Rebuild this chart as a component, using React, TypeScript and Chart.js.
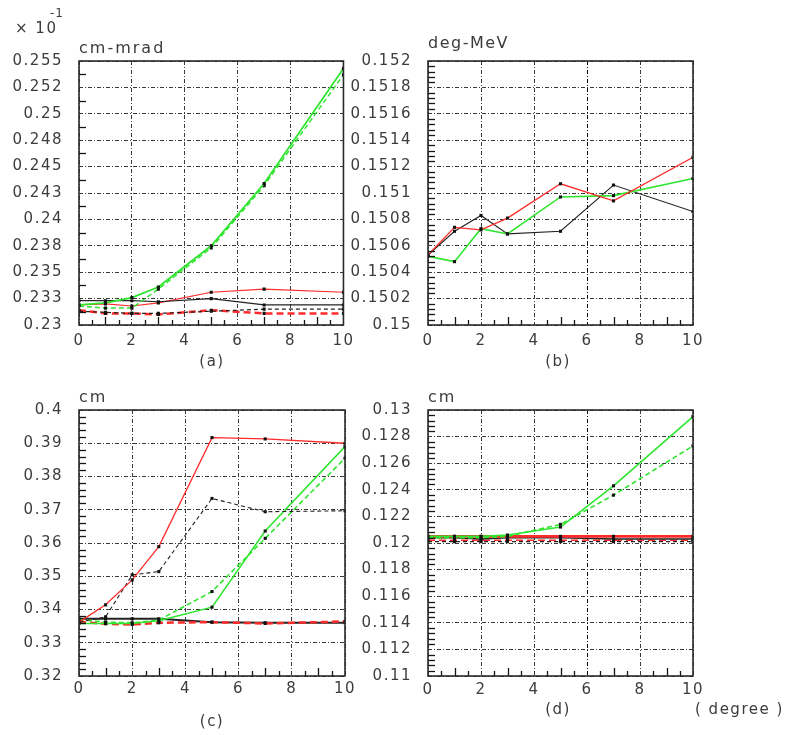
import React, { useEffect, useRef } from 'react';
import { Chart, registerables } from 'chart.js';
Chart.register(...registerables);

// ---------- shared data ----------
const xValues = [0, 1, 2, 3, 5, 7, 10];
const xGridTicks = [0, 2, 4, 6, 8, 10];
const xTickLabels = ['0', '2', '4', '6', '8', '10'];

// ---------- panel (a) : cm-mrad (x 10^-1) ----------
const aYTicks = [0.23, 0.2325, 0.235, 0.2375, 0.24, 0.2425, 0.245, 0.2475, 0.25, 0.2525, 0.255];
const aYLabels = ['0.23', '0.233', '0.235', '0.238', '0.24', '0.243', '0.245', '0.248', '0.25', '0.252', '0.255'];
const aGreenSolid = [0.2319, 0.2321, 0.2326, 0.2336, 0.2375, 0.2434, 0.2543];
const aGreenDashed = [0.2318, 0.2316, 0.2316, 0.2334, 0.2373, 0.2432, 0.2537];
const aRedSolid = [0.2319, 0.232, 0.2318, 0.2321, 0.2331, 0.2334, 0.2331];
const aRedDashed = [0.2314, 0.2311, 0.2311, 0.231, 0.2314, 0.2311, 0.2311];
const aBlackSolid = [0.2323, 0.2323, 0.2323, 0.2322, 0.2325, 0.2319, 0.2319];
const aBlackDashed = [0.2313, 0.2312, 0.2311, 0.2311, 0.2313, 0.2315, 0.2315];

// ---------- panel (b) : deg-MeV ----------
const bYTicks = [0.15, 0.1502, 0.1504, 0.1506, 0.1508, 0.151, 0.1512, 0.1514, 0.1516, 0.1518, 0.152];
const bYLabels = ['0.15', '0.1502', '0.1504', '0.1506', '0.1508', '0.151', '0.1512', '0.1514', '0.1516', '0.1518', '0.152'];
const bRed = [0.15053, 0.15074, 0.15072, 0.15081, 0.15107, 0.15094, 0.15127];
const bGreen = [0.15052, 0.15048, 0.15073, 0.15069, 0.15097, 0.15098, 0.15111];
const bBlack = [0.15053, 0.15071, 0.15083, 0.15069, 0.15071, 0.15106, 0.15086];

// ---------- panel (c) : cm ----------
const cYTicks = [0.32, 0.33, 0.34, 0.35, 0.36, 0.37, 0.38, 0.39, 0.4];
const cYLabels = ['0.32', '0.33', '0.34', '0.35', '0.36', '0.37', '0.38', '0.39', '0.4'];
const cRedSolid = [0.3362, 0.3414, 0.3489, 0.3589, 0.3917, 0.3913, 0.39];
const cBlackDashed = [0.3362, 0.3378, 0.3504, 0.3514, 0.3734, 0.3694, 0.3697];
const cGreenSolid = [0.3358, 0.3358, 0.3358, 0.3366, 0.3407, 0.3636, 0.389];
const cGreenDashed = [0.337, 0.3362, 0.336, 0.3368, 0.3454, 0.3614, 0.3855];
const cBlackSolid = [0.3372, 0.3372, 0.3372, 0.3372, 0.3362, 0.336, 0.336];
const cRedDashed = [0.3363, 0.3357, 0.3355, 0.336, 0.3362, 0.3358, 0.3364];

// ---------- panel (d) : cm ----------
const dYTicks = [0.11, 0.112, 0.114, 0.116, 0.118, 0.12, 0.122, 0.124, 0.126, 0.128, 0.13];
const dYLabels = ['0.11', '0.112', '0.114', '0.116', '0.118', '0.12', '0.122', '0.124', '0.126', '0.128', '0.13'];
const dGreenSolid = [0.1205, 0.1205, 0.1205, 0.1206, 0.1212, 0.1243, 0.1295];
const dGreenDashed = [0.1204, 0.1204, 0.1204, 0.1205, 0.1214, 0.1236, 0.1273];
const dRedSolid = [0.1205, 0.1205, 0.1205, 0.1205, 0.1205, 0.1205, 0.1205];
const dRedDashed = [0.1202, 0.1202, 0.1202, 0.1202, 0.1202, 0.1202, 0.1202];
const dBlackSolid = [0.1204, 0.1204, 0.1203, 0.1204, 0.1204, 0.1203, 0.1203];
const dBlackDashed = [0.1201, 0.1201, 0.1201, 0.1201, 0.1201, 0.1201, 0.1201];

// ---------- styles ----------
const RED = '#ff2b2b';
const GREEN = '#2fe52f';
const BLACK = '#222';
const FONT = 'DejaVu Sans';
const LABEL_COLOR = '#3c3c3c';
const GRID_COLOR = '#3a3a3a';

type Series = { data: number[]; color: string; width: number; dash: number[] };
type Txt = { text: string; x: number; y: number; align: CanvasTextAlign; size: number; spacing: number; baseline?: CanvasTextBaseline };
type PanelCfg = {
  name: string;
  left: number; top: number; w: number; h: number;
  area: { left: number; top: number; right: number; bottom: number };
  yMin: number; yMax: number; yTicks: number[]; yLabels: string[];
  yMinor: number; minorPerMajor: number;
  xPad: number;
  darkSix: boolean;
  series: Series[];
  texts: Txt[];
};

const S = (data: number[], color: string, width: number, dash: number[] = []): Series => ({ data, color, width, dash });

const panels: PanelCfg[] = [
  {
    name: 'a', left: 0, top: 0, w: 360, h: 370,
    area: { left: 79, top: 61, right: 345, bottom: 325 },
    yMin: 0.23, yMax: 0.255, yTicks: aYTicks, yLabels: aYLabels, yMinor: 0.00125, minorPerMajor: 2,
    xPad: 7, darkSix: false,
    series: [
      S(aGreenSolid, GREEN, 1.8),
      S(aGreenDashed, GREEN, 1.5, [5, 3]),
      S(aBlackSolid, BLACK, 1.2),
      S(aBlackDashed, BLACK, 1.2, [4, 3]),
      S(aRedSolid, RED, 1.2),
      S(aRedDashed, RED, 2.5, [7, 4]),
    ],
    texts: [
      { text: '\u00d7 10', x: 15, y: 29, align: 'left', size: 15, spacing: 1.5, baseline: 'middle' },
      { text: '-1', x: 50, y: 14, align: 'left', size: 12, spacing: 1, baseline: 'middle' },
      { text: 'cm-mrad', x: 79, y: 53, align: 'left', size: 16, spacing: 2, baseline: 'alphabetic' },
      { text: '(a)', x: 212, y: 362, align: 'center', size: 15, spacing: 1.5, baseline: 'middle' },
    ],
  },
  {
    name: 'b', left: 330, top: 0, w: 457, h: 370,
    area: { left: 98, top: 61, right: 363, bottom: 325 },
    yMin: 0.15, yMax: 0.152, yTicks: bYTicks, yLabels: bYLabels, yMinor: 0.00004, minorPerMajor: 5,
    xPad: 7, darkSix: true,
    series: [
      S(bRed, RED, 1.3),
      S(bGreen, GREEN, 1.6),
      S(bBlack, BLACK, 1.1),
    ],
    texts: [
      { text: 'deg-MeV', x: 98, y: 48, align: 'left', size: 16, spacing: 1.5, baseline: 'alphabetic' },
      { text: '(b)', x: 228, y: 362, align: 'center', size: 15, spacing: 1.5, baseline: 'middle' },
    ],
  },
  {
    name: 'c', left: 0, top: 370, w: 360, h: 365,
    area: { left: 79, top: 40, right: 345, bottom: 306 },
    yMin: 0.32, yMax: 0.4, yTicks: cYTicks, yLabels: cYLabels, yMinor: 0.002, minorPerMajor: 5,
    xPad: 4, darkSix: false,
    series: [
      S(cRedSolid, RED, 1.3),
      S(cBlackDashed, BLACK, 1.1, [4, 3]),
      S(cGreenSolid, GREEN, 1.6),
      S(cGreenDashed, GREEN, 1.6, [5, 3]),
      S(cRedDashed, RED, 2.5, [7, 4]),
      S(cBlackSolid, BLACK, 2),
    ],
    texts: [
      { text: 'cm', x: 79, y: 32, align: 'left', size: 16, spacing: 2, baseline: 'alphabetic' },
      { text: '(c)', x: 212, y: 352, align: 'center', size: 15, spacing: 1.5, baseline: 'middle' },
    ],
  },
  {
    name: 'd', left: 330, top: 370, w: 457, h: 365,
    area: { left: 98, top: 40, right: 363, bottom: 306 },
    yMin: 0.11, yMax: 0.13, yTicks: dYTicks, yLabels: dYLabels, yMinor: 0.0004, minorPerMajor: 5,
    xPad: 5, darkSix: true,
    series: [
      S(dGreenSolid, GREEN, 1.6),
      S(dGreenDashed, GREEN, 1.6, [5, 3]),
      S(dRedSolid, RED, 2.6),
      S(dBlackSolid, BLACK, 1.5),
      S(dRedDashed, RED, 1.5, [7, 4]),
      S(dBlackDashed, BLACK, 1.1, [4, 3]),
    ],
    texts: [
      { text: 'cm', x: 98, y: 32, align: 'left', size: 16, spacing: 2, baseline: 'alphabetic' },
      { text: '(d)', x: 228, y: 340, align: 'center', size: 15, spacing: 1.5, baseline: 'middle' },
      { text: '( degree )', x: 365, y: 340, align: 'left', size: 15, spacing: 1.5, baseline: 'middle' },
    ],
  },
];

function makeDecor(p: PanelCfg) {
  return {
    id: 'decor_' + p.name,
    beforeDraw(chart: any) {
      chart.ctx.letterSpacing = '1.5px';
    },
    afterDraw(chart: any) {
      const ctx: CanvasRenderingContext2D = chart.ctx;
      const a = chart.chartArea;
      const xs = chart.scales.x;
      const ys = chart.scales.y;
      ctx.save();
      ctx.setLineDash([]);
      ctx.strokeStyle = '#151515';
      ctx.lineWidth = 1.3;
      // x minor ticks (inside, from the bottom edge)
      for (let k = 1; k < 20; k++) {
        const v = k * 0.5;
        if (v % 2 === 0) continue;
        const len = Number.isInteger(v) ? 8 : 5;
        const px = Math.round(xs.getPixelForValue(v)) + 0.5;
        ctx.beginPath();
        ctx.moveTo(px, a.bottom);
        ctx.lineTo(px, a.bottom - len);
        ctx.stroke();
      }
      // y minor ticks (inside, from the left edge)
      const n = Math.round((p.yMax - p.yMin) / p.yMinor);
      for (let k = 1; k < n; k++) {
        if (k % p.minorPerMajor === 0) continue;
        const v = p.yMin + k * p.yMinor;
        const py = Math.round(ys.getPixelForValue(v)) + 0.5;
        ctx.beginPath();
        ctx.moveTo(a.left, py);
        ctx.lineTo(a.left + 7, py);
        ctx.stroke();
      }
      // frame
      ctx.lineWidth = 1.6;
      ctx.strokeStyle = '#2a2a2a';
      ctx.strokeRect(a.left, a.top, a.right - a.left, a.bottom - a.top);
      // texts
      ctx.fillStyle = LABEL_COLOR;
      for (const t of p.texts) {
        (ctx as any).letterSpacing = `${t.spacing}px`;
        ctx.font = `${t.size}px "${FONT}"`;
        ctx.textAlign = t.align;
        ctx.textBaseline = t.baseline || 'middle';
        ctx.fillText(t.text, t.x, t.y);
      }
      ctx.restore();
    },
  };
}

function makeConfig(p: PanelCfg): any {
  const gridDash = [4, 2, 1, 2];
  return {
    type: 'line',
    data: {
      datasets: p.series.map((s) => ({
        data: xValues.map((x, i) => ({ x, y: s.data[i] })),
        borderColor: s.color,
        borderWidth: s.width,
        borderDash: s.dash,
        pointRadius: 2.2,
        pointStyle: 'rect',
        pointBackgroundColor: '#111',
        pointBorderColor: '#111',
        pointBorderWidth: 0,
        fill: false,
        tension: 0,
      })),
    },
    options: {
      animation: false,
      responsive: false,
      events: [],
      layout: { padding: { left: 0, top: p.area.top, right: p.w - p.area.right, bottom: 0 } },
      plugins: { legend: { display: false }, tooltip: { enabled: false }, title: { display: false } },
      scales: {
        x: {
          type: 'linear',
          min: 0,
          max: 10,
          afterBuildTicks: (s: any) => { s.ticks = xGridTicks.map((v) => ({ value: v })); },
          afterFit: (s: any) => { s.height = p.h - p.area.bottom; },
          grid: {
            drawTicks: false,
            lineWidth: 1,
            color: (ctx: any) => (p.darkSix && ctx.tick && ctx.tick.value === 6 ? '#0a0a0a' : GRID_COLOR),
          },
          border: { display: false, dash: gridDash },
          ticks: {
            autoSkip: false,
            maxRotation: 0,
            padding: p.xPad,
            color: LABEL_COLOR,
            font: { family: FONT, size: 15 },
            callback: (_v: any, i: number) => xTickLabels[i],
          },
        },
        y: {
          type: 'linear',
          min: p.yMin,
          max: p.yMax,
          afterBuildTicks: (s: any) => { s.ticks = p.yTicks.map((v) => ({ value: v })); },
          afterFit: (s: any) => { s.width = p.area.left; },
          grid: { drawTicks: false, lineWidth: 1, color: GRID_COLOR },
          border: { display: false, dash: gridDash },
          ticks: {
            autoSkip: false,
            padding: 16,
            color: LABEL_COLOR,
            font: { family: FONT, size: 15 },
            callback: (_v: any, i: number) => p.yLabels[i],
          },
        },
      },
    },
    plugins: [makeDecor(p)],
  };
}

function Panel({ cfg }: { cfg: PanelCfg }) {
  const ref = useRef<HTMLCanvasElement>(null);
  useEffect(() => {
    if (!ref.current) return;
    const chart = new Chart(ref.current, makeConfig(cfg));
    return () => chart.destroy();
  }, [cfg]);
  return (
    <canvas
      ref={ref}
      width={cfg.w}
      height={cfg.h}
      style={{ position: 'absolute', left: cfg.left, top: cfg.top, width: cfg.w, height: cfg.h }}
    />
  );
}

export default function App() {
  return (
    <div style={{ position: 'absolute', left: 0, top: 0, width: 787, height: 735, background: '#fff', overflow: 'hidden' }}>
      {panels.map((p) => (
        <Panel key={p.name} cfg={p} />
      ))}
    </div>
  );
}
